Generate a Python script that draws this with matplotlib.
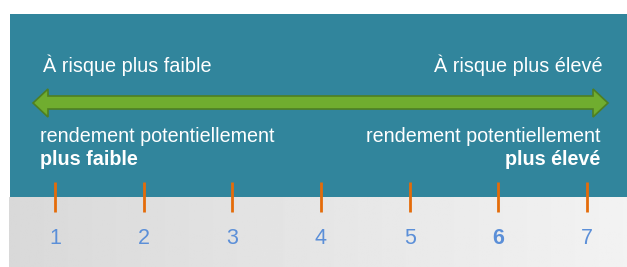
import matplotlib.pyplot as plt
from matplotlib.patches import Rectangle, Polygon
import numpy as np

# Risk scale data
levels = [1, 2, 3, 4, 5, 6, 7]
current_level = 6
low_title = "À risque plus faible"
high_title = "À risque plus élevé"
return_label = "rendement potentiellement"
low_return = "plus faible"
high_return = "plus élevé"

W, H = 627, 267
teal = '#31859c'
green = '#70ad2f'
green_edge = '#4f7f22'
orange = '#e46c0a'
blue = '#5b8fd8'
font = ['Liberation Sans', 'DejaVu Sans']

fig = plt.figure(figsize=(W / 100, H / 100), dpi=100, facecolor='white')

# background axes in pixel coordinates
bg = fig.add_axes([0, 0, 1, 1])
bg.set_xlim(0, W)
bg.set_ylim(H, 0)
bg.axis('off')

bg.add_patch(Rectangle((10, 14), W - 10, 183, facecolor=teal, edgecolor='none'))

# light grey gradient band
grad = np.linspace(0.85, 0.95, 256).reshape(1, -1)
bg.imshow(grad, cmap='gray', vmin=0, vmax=1, aspect='auto',
          extent=[9, W, H, 197], zorder=0)

# double-headed arrow
arrow = Polygon([(33, 103), (48, 89), (48, 96), (593, 96), (593, 89), (608, 103),
                 (593, 117), (593, 109), (48, 109), (48, 117)],
                closed=True, facecolor=green, edgecolor=green_edge, linewidth=1.2, zorder=3)
bg.add_patch(arrow)

bg.text(43, 72, low_title, color='white', fontsize=14.3, family=font, ha='left', va='baseline')
bg.text(603, 72, high_title, color='white', fontsize=14.3, family=font, ha='right', va='baseline')
bg.text(40, 142, return_label, color='white', fontsize=14.2, family=font, ha='left', va='baseline')
bg.text(40, 165, low_return, color='white', fontsize=14.2, family=font, fontweight='bold',
        ha='left', va='baseline')
bg.text(600, 142, return_label, color='white', fontsize=14.2, family=font, ha='right', va='baseline')
bg.text(600, 165, high_return, color='white', fontsize=14.2, family=font, fontweight='bold',
        ha='right', va='baseline')

# scale axes: level 1 at x=55px, level 7 at x=587px
step = (587 - 55) / (levels[-1] - levels[0])
ax = fig.add_axes([0, 0, 1, 1])
ax.set_xlim(levels[0] - 55 / step, levels[-1] + (W - 587) / step)
ax.set_ylim(H, 0)
ax.axis('off')
ax.patch.set_alpha(0)

for lv in levels:
    ax.plot([lv, lv], [182, 212], color=orange, linewidth=2, solid_capstyle='butt')
    ax.text(lv, 239, str(lv), color=blue, fontsize=15.5, family=font,
            fontweight='bold' if lv == current_level else 'normal',
            ha='center', va='center')

fig.savefig('out.png', dpi=100, facecolor='white')
